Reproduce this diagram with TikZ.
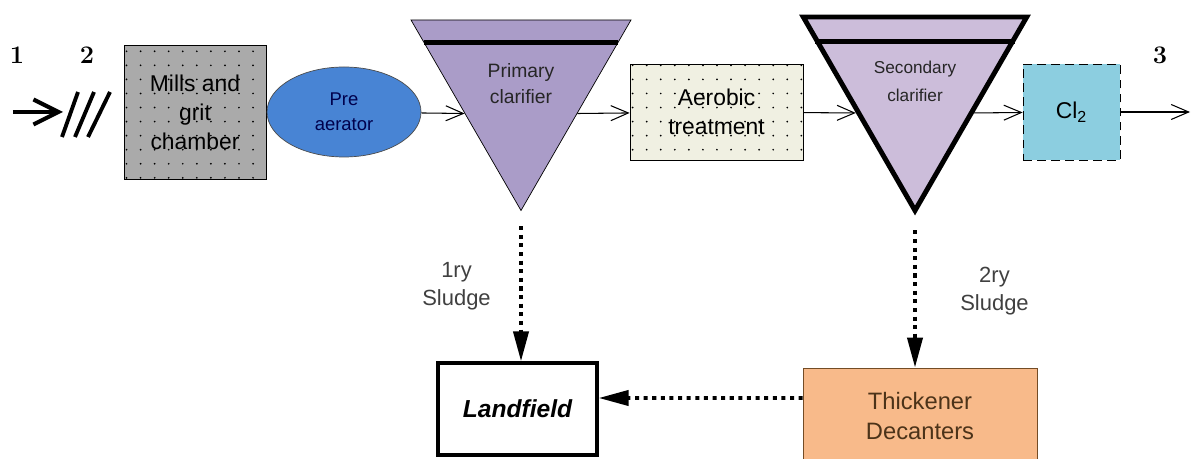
\documentclass[tikz,border=0pt]{standalone}
\usepackage{fontspec}
\setsansfont{Liberation Sans}
\usetikzlibrary{shapes.geometric,arrows.meta,patterns.meta,calc}
\definecolor{gritgray}{RGB}{170,170,170}
\definecolor{aerblue}{RGB}{72,132,212}
\definecolor{clarone}{RGB}{170,156,200}
\definecolor{clartwo}{RGB}{204,189,218}
\definecolor{aerocream}{RGB}{240,240,226}
\definecolor{chlorblue}{RGB}{140,206,224}
\definecolor{thickpeach}{RGB}{248,186,138}

\begin{document}
\begin{tikzpicture}[font=\sffamily]
\tikzstyle{unit}=[rectangle,draw,align=center,font=\sffamily\fontsize{13}{16.5}\selectfont]
\tikzstyle{speckled}=[preaction={fill=#1},pattern={Dots[distance=8pt,radius=0.55pt]},pattern color=black]
\tikzstyle{clarifier}=[regular polygon,regular polygon sides=3,shape border rotate=180,draw,align=center,inner sep=0pt]
\tikzstyle{flow}=[-{Straight Barb[length=3.5mm,width=3mm]},semithick]
\tikzstyle{sludge}=[-{Triangle[length=6mm,width=3mm]},line width=2.2pt,dash pattern=on 2.3pt off 2.6pt]
\tikzstyle{num}=[font=\rmfamily\bfseries\Large]
\tikzstyle{lbl}=[align=center,text=black!75,font=\sffamily\fontsize{12.5}{16}\selectfont]
\useasboundingbox (0,0) rectangle (23.84,9.18);

\node[num] (n1) at (0.34,8.08) {1};
\node[num] (n2) at (1.74,8.08) {2};
\node[num] (n3) at (23.2,8.08) {3};

\coordinate (src) at (0.26,6.94);
\coordinate (scr) at (1.26,6.94);
\draw[line width=2.3pt,-{Straight Barb[length=5mm,width=5mm]}] (src) -- (scr);
\foreach \i in {0,1,2}
  \draw[line width=2.2pt] (1.24+0.26*\i,6.44) -- (1.56+0.32*\i,7.34);

\node[unit,speckled=gritgray,minimum width=2.84cm,minimum height=2.68cm] (grit) at (3.90,6.94) {Mills and\\grit\\chamber};
\node[ellipse,draw=black!70,fill=aerblue,minimum width=3.08cm,minimum height=1.8cm,align=center,text=black!70!blue,font=\sffamily\fontsize{10.5}{14}\selectfont] (pre) at (6.88,6.94) {Pre\\aerator};
\node[clarifier,fill=clarone,minimum size=5.08cm,text=black!85,font=\sffamily\fontsize{11}{15}\selectfont] (pc) at (10.42,7.51) {Primary\\clarifier};
\node[unit,speckled=aerocream,minimum width=3.46cm,minimum height=1.92cm] (aer) at (14.33,6.94) {Aerobic\\treatment};
\node[clarifier,fill=clartwo,line width=2.8pt,minimum size=5.16cm,text=black!85,font=\sffamily\fontsize{9.8}{16}\selectfont] (sc) at (18.30,7.55) {Secondary\\clarifier};
\node[unit,dashed,dash pattern=on 5pt off 3pt,fill=chlorblue,minimum width=1.94cm,minimum height=1.92cm] (cl) at (21.43,6.94) {Cl\textsubscript{2}};
\node[unit,line width=1.8pt,minimum width=3.18cm,minimum height=1.84cm,font=\sffamily\bfseries\itshape\fontsize{14}{17}\selectfont] (land) at (10.35,1.0) {Landfield};
\node[unit,draw=brown!60!black,fill=thickpeach,text=brown!40!black,minimum width=4.68cm,minimum height=1.92cm,font=\sffamily\fontsize{13.5}{17}\selectfont] (thk) at (18.4,0.86) {Thickener\\Decanters};

% weirs of the clarifiers
\draw[line width=2.8pt] ($(pc.corner 3)!0.12!(pc.corner 1)$) -- ($(pc.corner 2)!0.12!(pc.corner 1)$);
\draw[line width=2.8pt] ($(sc.corner 3)!0.135!(sc.corner 1)$) -- ($(sc.corner 2)!0.135!(sc.corner 1)$);

\coordinate (pcin) at ($(pc.corner 3)!0.49!(pc.corner 1)$);
\coordinate (pcout) at ($(pc.corner 2)!0.49!(pc.corner 1)$);
\coordinate (scin) at ($(sc.corner 3)!0.49!(sc.corner 1)$);
\coordinate (scout) at ($(sc.corner 2)!0.49!(sc.corner 1)$);
\coordinate (out) at (23.8,6.94);

\draw[flow] (pre) -- (pcin);
\draw[flow] (pcout) -- (aer);
\draw[flow] (aer) -- (scin);
\draw[flow] (scout) -- (cl);
\draw[flow] (cl) -- (out);

\draw[sludge,shorten <=0.3cm] (pc.corner 1) -- (pc.corner 1 |- land.north) node[midway,left=0.45cm,lbl] (s1) {1ry\\Sludge};
\draw[sludge,shorten <=0.3cm] (sc.corner 1) -- (sc.corner 1 |- thk.north) node[midway,right=0.75cm,lbl] (s2) {2ry\\Sludge};
\draw[sludge] ([yshift=3.6mm]thk.west) -- ([yshift=2.2mm]land.east);
\end{tikzpicture}
\end{document}
